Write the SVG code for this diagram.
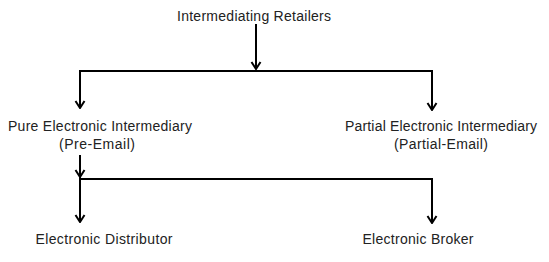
<svg xmlns="http://www.w3.org/2000/svg" width="549" height="262" viewBox="0 0 549 262">
<defs>
<style>
text{font-family:"Liberation Sans","DejaVu Sans",sans-serif;font-size:14px;fill:#222;text-anchor:middle}
.c{stroke:#000;stroke-width:2;fill:none}
.a{stroke:#000;stroke-width:2;fill:none;marker-end:url(#ah)}
</style>
<marker id="ah" viewBox="0 0 10 12" refX="9" refY="6" markerWidth="10" markerHeight="12" markerUnits="userSpaceOnUse" orient="auto">
<path d="M2,1.5 L9,6 L2,10.5" fill="none" stroke="#000" stroke-width="2"/>
</marker>
</defs>
<rect width="549" height="262" fill="#fff"/>
<g id="connectors">
<path class="a" d="M256,24 V69"/>
<path class="c" d="M79,71 H433"/>
<path class="a" d="M80,70 V108"/>
<path class="a" d="M432,70 V110"/>
<path class="a" d="M80,155 V177"/>
<path class="c" d="M80,179 H433"/>
<path class="a" d="M80,177 V222"/>
<path class="a" d="M432,178 V223"/>
</g>
<g id="n-retailers"><text x="254" y="21" textLength="154">Intermediating Retailers</text></g>
<g id="n-pure"><text x="100" y="131" textLength="184">Pure Electronic Intermediary</text><text x="97" y="149" textLength="76">(Pre-Email)</text></g>
<g id="n-partial"><text x="441" y="131" textLength="192">Partial Electronic Intermediary</text><text x="441" y="149" textLength="94">(Partial-Email)</text></g>
<g id="n-distributor"><text x="104" y="244" textLength="137">Electronic Distributor</text></g>
<g id="n-broker"><text x="418" y="244" textLength="111">Electronic Broker</text></g>
</svg>
